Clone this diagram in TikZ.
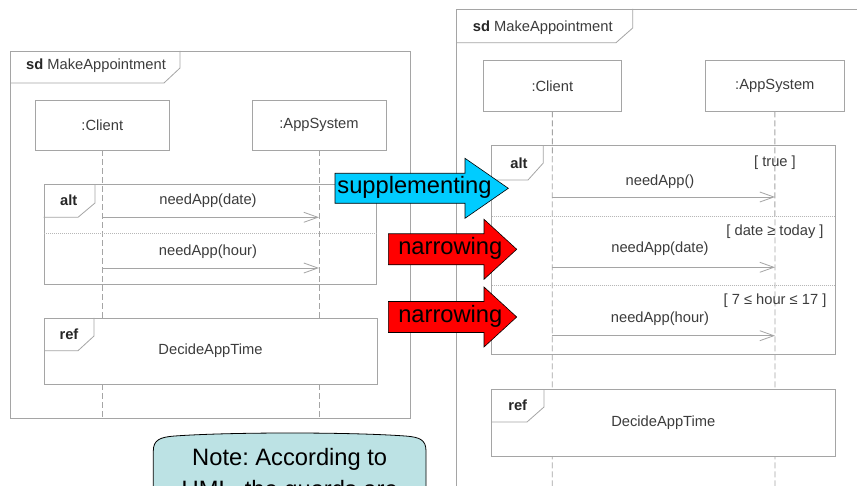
\documentclass[tikz,border=0pt]{standalone}
\usepackage{fontspec}
\setmainfont{Liberation Sans}
\usetikzlibrary{arrows.meta}
\frenchspacing
\definecolor{linegray}{RGB}{165,165,165}
\definecolor{txtgray}{RGB}{60,60,60}
\definecolor{notefill}{RGB}{188,226,228}
\definecolor{supcyan}{RGB}{0,204,255}
\definecolor{narred}{RGB}{255,0,0}
\tikzset{
  frameline/.style={draw=linegray, line width=0.8pt},
  lifebox/.style={draw=linegray, line width=0.8pt, fill=white, inner sep=0pt,
    font=\fontsize{14.7}{17}\selectfont, text=txtgray},
  lifeline/.style={draw=linegray, line width=0.8pt, dash pattern=on 6pt off 3pt},
  msg/.style={draw=linegray, line width=0.8pt, -{Straight Barb[length=14pt,width=10pt,line width=0.8pt]}},
  sepline/.style={draw=linegray!80, line width=0.8pt, dash pattern=on 1pt off 1pt},
  lbl/.style={inner sep=0pt, font=\fontsize{14.7}{17}\selectfont, text=txtgray},
  kw/.style={inner sep=0pt, font=\fontsize{14.7}{17}\selectfont\bfseries, text=black!85},
  bigtxt/.style={inner sep=0pt, font=\fontsize{23.7}{32}\selectfont, text=black},
  blockarrow/.style={draw=black, line width=0.6pt},
}
\begin{document}
\begin{tikzpicture}[x=1pt,y=-1pt]
\clip (0,0) rectangle (857,486);
\fill[white] (0,0) rectangle (857,486);

% ================= LEFT DIAGRAM =================
\draw[frameline] (10.7,51) rectangle (410,418);
\draw[frameline] (10.7,83) -- (164,83) -- (180,68) -- (180,51);
\node[anchor=base west, inner sep=0pt, font=\fontsize{14.7}{17}\selectfont, text=txtgray] (Ltitle) at (26,70) {\textbf{\color{black!85}sd} MakeAppointment};

\node[lifebox, minimum width=133.3pt, minimum height=49.3pt] (LC) at (102.3,125.3) {:Client};
\node[lifebox, minimum width=134pt, minimum height=49.3pt] (LA) at (319,125.3) {:AppSystem};
\coordinate (LCend) at (102.3,418);
\coordinate (LAend) at (319,418);
\draw[lifeline] (LC.south) -- (LCend);
\draw[lifeline] (LA.south) -- (LAend);

% alt fragment
\node[frameline, inner sep=0pt, minimum width=332.7pt, minimum height=99.7pt] (Lalt) at (210.35,234.15) {};
\draw[frameline] (Lalt.north west |- 0,217.3) -- (78,217.3) -- (95,203) -- (95,184.3);
\node[kw] (Laltkw) at (68.7,200.3) {alt};
\coordinate (Lsep1) at (44,233);
\coordinate (Lsep2) at (376.7,233);
\draw[sepline] (Lsep1) -- (Lsep2);
\node[lbl] (Lm1t) at (208,201) {needApp(date)};
\coordinate (Lm1a) at (102.3,217.3);
\coordinate (Lm1b) at (319,217.3);
\draw[msg] (Lm1a) -- (Lm1b);
\node[lbl] (Lm2t) at (208,251.7) {needApp(hour)};
\coordinate (Lm2a) at (102.3,268);
\coordinate (Lm2b) at (319,268);
\draw[msg] (Lm2a) -- (Lm2b);

% ref fragment
\node[lifebox, minimum width=333pt, minimum height=66pt] (Lref) at (210.5,351) {DecideAppTime};
\draw[frameline] (44,350.7) -- (78,350.7) -- (94,336) -- (94,318);
\node[kw] (Lrefkw) at (69,334) {ref};

% ================= RIGHT DIAGRAM =================
\draw[frameline] (456.7,9) rectangle (900,520);
\draw[frameline] (456.7,42.7) -- (616,42.7) -- (632.7,28) -- (632.7,9);
\node[anchor=base west, inner sep=0pt, font=\fontsize{14.7}{17}\selectfont, text=txtgray] (Rtitle) at (472.7,31.7) {\textbf{\color{black!85}sd} MakeAppointment};

\node[lifebox, minimum width=138.7pt, minimum height=50.3pt] (RC) at (552.35,85.85) {:Client};
\node[lifebox, minimum width=138.3pt, minimum height=50.3pt] (RA) at (774.85,85.85) {:AppSystem};
\coordinate (RCend) at (552.3,490);
\coordinate (RAend) at (775,490);
\draw[lifeline] (RC.south) -- (RCend);
\draw[lifeline] (RA.south) -- (RAend);

% alt fragment
\node[frameline, inner sep=0pt, minimum width=343.3pt, minimum height=208.3pt] (Ralt) at (663.35,249.85) {};
\draw[frameline] (491.7,180) -- (528,180) -- (543.3,163) -- (543.3,145.7);
\node[kw] (Raltkw) at (519,163.3) {alt};
\node[lbl] (Rg1) at (775,163) {[ true ]};
\node[lbl] (Rm1t) at (660,181.7) {needApp()};
\coordinate (Rm1a) at (552.3,197);
\coordinate (Rm1b) at (775,197);
\draw[msg] (Rm1a) -- (Rm1b);
\coordinate (Rsep1a) at (491.7,216.7);
\coordinate (Rsep1b) at (835,216.7);
\draw[sepline] (Rsep1a) -- (Rsep1b);
\node[lbl] (Rg2) at (775,231.7) {[ date ≥ today ]};
\node[lbl] (Rm2t) at (660,249) {needApp(date)};
\coordinate (Rm2a) at (552.3,267.3);
\coordinate (Rm2b) at (775,267.3);
\draw[msg] (Rm2a) -- (Rm2b);
\coordinate (Rsep2a) at (491.7,285);
\coordinate (Rsep2b) at (835,285);
\draw[sepline] (Rsep2a) -- (Rsep2b);
\node[lbl] (Rg3) at (775,300.7) {[ 7 ≤ hour ≤ 17 ]};
\node[lbl] (Rm3t) at (660,318.3) {needApp(hour)};
\coordinate (Rm3a) at (552.3,335.7);
\coordinate (Rm3b) at (775,335.7);
\draw[msg] (Rm3a) -- (Rm3b);

% ref fragment
\node[lifebox, minimum width=343.3pt, minimum height=67.7pt] (Rref) at (663.35,422.85) {DecideAppTime};
\draw[frameline] (491.7,422) -- (527,422) -- (544,407) -- (544,389);
\node[kw] (Rrefkw) at (517.7,405) {ref};

% ================= BLOCK ARROWS =================
\draw[blockarrow, fill=supcyan] (335,173.3) -- (465,173.3) -- (465,158.3) -- (508.3,188.3) -- (465,218.3) -- (465,203.3) -- (335,203.3) -- cycle;
\node[bigtxt, anchor=base] (sup) at (414.5,193.3) {supplementing};

\draw[blockarrow, fill=narred] (388.3,233.8) -- (484,233.8) -- (484,219.3) -- (516.7,249.3) -- (484,279.3) -- (484,264.8) -- (388.3,264.8) -- cycle;
\node[bigtxt, anchor=base] (nar1) at (450.3,255) {narrowing};

\draw[blockarrow, fill=narred] (388.3,301.5) -- (484,301.5) -- (484,287) -- (516.7,317) -- (484,347) -- (484,332.5) -- (388.3,332.5) -- cycle;
\node[bigtxt, anchor=base] (nar2) at (450.3,322.7) {narrowing};

% ================= NOTE =================
\draw[draw=black, line width=0.8pt, fill=notefill] (153.3,500) -- (153.3,451)
  .. controls (153.3,440) and (160,437) .. (175,436)
  .. controls (230,432) and (350,432) .. (405,436)
  .. controls (420,437) and (426,440) .. (426,451) -- (426,500);
\node[bigtxt, anchor=base, align=center] (note) at (289.7,497.7) {Note: According to\\UML, the guards are};
\end{tikzpicture}
\end{document}
